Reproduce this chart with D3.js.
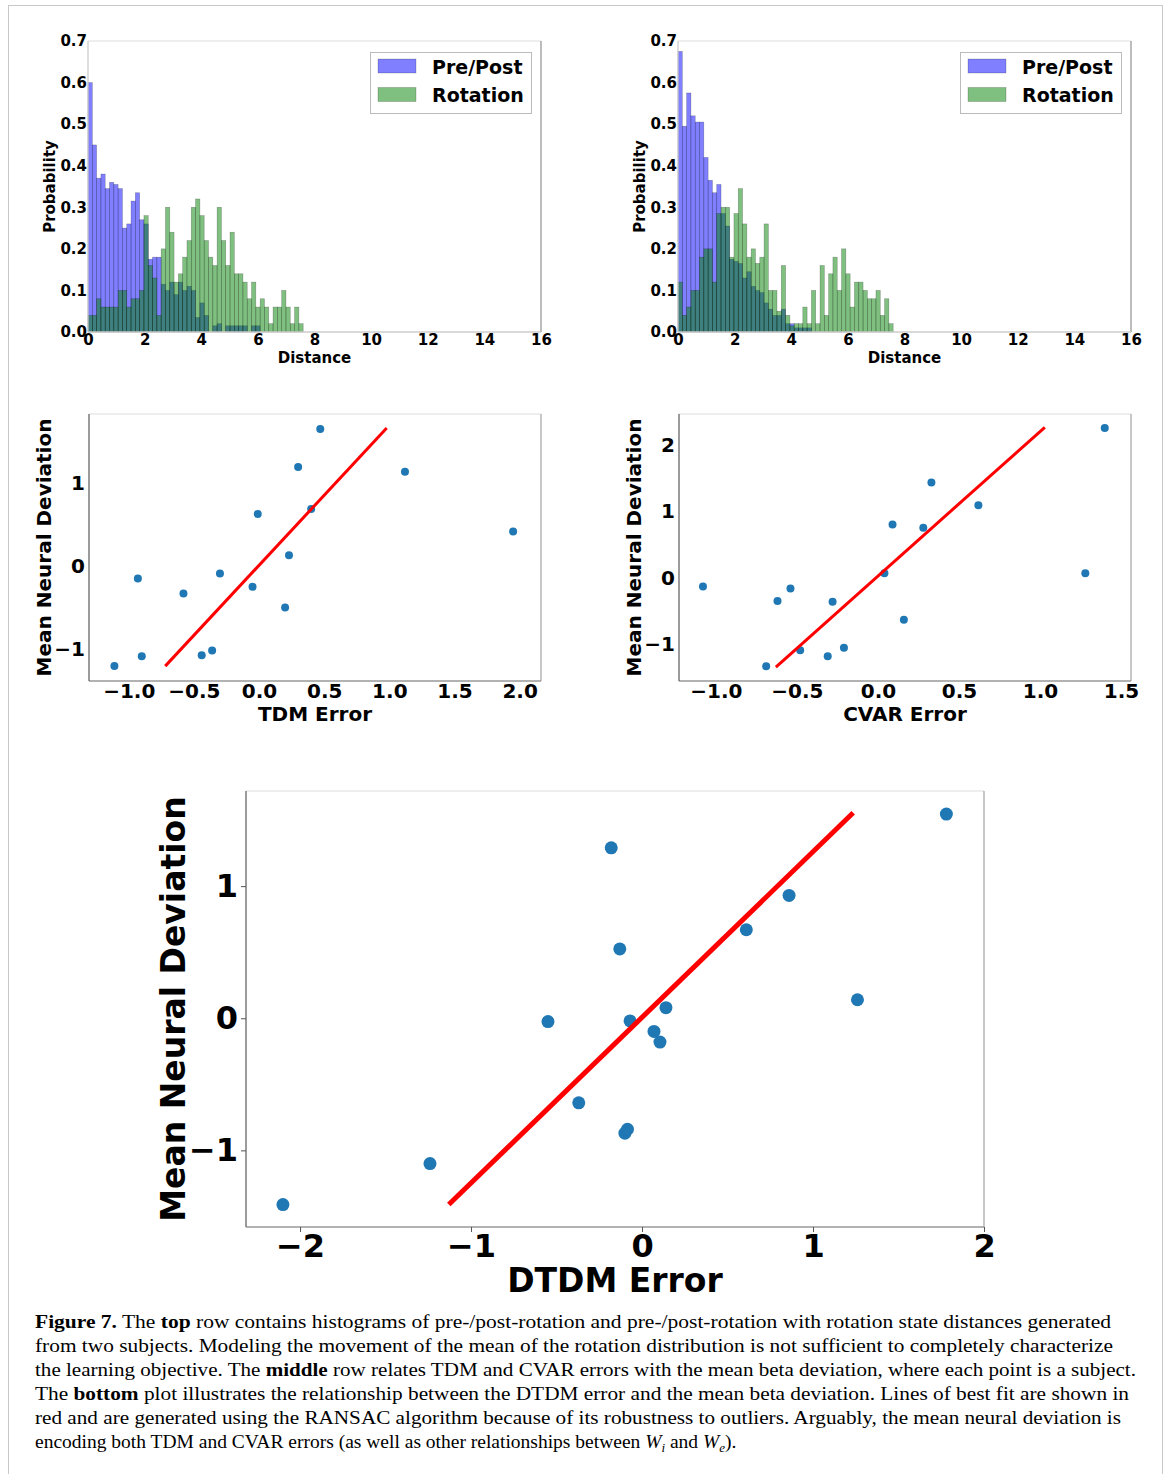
<!DOCTYPE html>
<html>
<head>
<meta charset="utf-8">
<script src="https://cdn.jsdelivr.net/npm/d3@7"></script>
<style>
body { margin: 0; background: #fff; }
svg text { font-family: "DejaVu Sans", sans-serif; font-weight: bold; fill: #000; }
svg text.caption { font-family: "Liberation Serif", serif; font-weight: normal; }
</style>
</head>
<body>
<svg id="fig" width="1170" height="1474"></svg>
<script>
// ---- data ----
var binWidth = 0.152;   // 50 bins over 0..7.6

var hist1Pre = [0.60,0.45,0.37,0.38,0.345,0.36,0.355,0.345,0.25,0.26,0.315,0.335,0.27,0.26,0.175,0.18,0.18,0.115,0.10,0.12,
                0.09,0.12,0.10,0.11,0.10,0.035,0.07,0.04,0,0.015,0.02,0,0.015,0.015,0.015,0.015,0.015,0,0.015,0.015,
                0,0,0,0,0,0,0,0,0,0];
var hist1Rot = [0.04,0.04,0.08,0.06,0.06,0.06,0.06,0.10,0.10,0.06,0.08,0.08,0.10,0.28,0.16,0.13,0.04,0.20,0.30,0.24,
                0.12,0.14,0.18,0.22,0.30,0.32,0.28,0.22,0.18,0.16,0.30,0.22,0.16,0.24,0.14,0.14,0.12,0.08,0.12,0.06,
                0.08,0.06,0.02,0.06,0.06,0.10,0.06,0.02,0.06,0.02];

var hist2Pre = [0.675,0.495,0.575,0.52,0.505,0.505,0.42,0.365,0.335,0.355,0.285,0.255,0.175,0.17,0.165,0.13,0.145,0.11,0.10,0.095,
                0.07,0.055,0.04,0.04,0.055,0.02,0.02,0.01,0.01,0.01,0.01,0,0,0,0,0,0,0,0,0,
                0,0,0,0,0,0,0,0,0,0];
var hist2Rot = [0.12,0.04,0.06,0.10,0.10,0.18,0.20,0.20,0.12,0.285,0.30,0.30,0.18,0.285,0.345,0.26,0.18,0.20,0.165,0.18,
                0.26,0.10,0.10,0.05,0.16,0.04,0.015,0.02,0.02,0.06,0.02,0.10,0.02,0.16,0.04,0.14,0.18,0.10,0.20,0.14,
                0.06,0.12,0.12,0.10,0.08,0.08,0.10,0.04,0.08,0.02];

var histXTicks = [0,2,4,6,8,10,12,14,16];
var histYTicks = [0,0.1,0.2,0.3,0.4,0.5,0.6,0.7];
var legendLabels = ["Pre/Post", "Rotation"];

var tdmX = [-1.11,-0.93,-0.90,-0.58,-0.44,-0.36,-0.30,-0.05,-0.01,0.20,0.23,0.30,0.40,0.47,1.12,1.95];
var tdmY = [-1.21,-0.15,-1.09,-0.33,-1.08,-1.02,-0.09,-0.25,0.63,-0.50,0.13,1.20,0.69,1.66,1.14,0.42];
var tdmFitX = [-0.72, 0.98];
var tdmFitY = [-1.21, 1.67];

var cvarX = [-1.08,-0.69,-0.62,-0.54,-0.48,-0.31,-0.28,-0.21,0.04,0.09,0.16,0.28,0.33,0.62,1.28,1.40];
var cvarY = [-0.13,-1.33,-0.35,-0.16,-1.09,-1.18,-0.36,-1.05,0.07,0.80,-0.63,0.75,1.43,1.09,0.07,2.25];
var cvarFitX = [-0.63, 1.03];
var cvarFitY = [-1.34, 2.26];

var dtdmX = [-2.10,-1.24,-0.55,-0.37,-0.18,-0.13,-0.10,-0.085,-0.07,0.07,0.105,0.14,0.61,0.86,1.26,1.78];
var dtdmY = [-1.41,-1.10,-0.025,-0.64,1.29,0.525,-0.87,-0.84,-0.02,-0.10,-0.18,0.08,0.67,0.93,0.14,1.545];
var dtdmFitX = [-1.13, 1.235];
var dtdmFitY = [-1.41, 1.555];

var captionLines = [
  [["Figure 7.", "b"], [" The ", ""], ["top", "b"], [" row contains histograms of pre-/post-rotation and pre-/post-rotation with rotation state distances generated", ""]],
  [["from two subjects. Modeling the movement of the mean of the rotation distribution is not sufficient to completely characterize", ""]],
  [["the learning objective. The ", ""], ["middle", "b"], [" row relates TDM and CVAR errors with the mean beta deviation, where each point is a subject.", ""]],
  [["The ", ""], ["bottom", "b"], [" plot illustrates the relationship between the DTDM error and the mean beta deviation. Lines of best fit are shown in", ""]],
  [["red and are generated using the RANSAC algorithm because of its robustness to outliers. Arguably, the mean neural deviation is", ""]],
  [["encoding both TDM and CVAR errors (as well as other relationships between ", ""], ["W", "i"], ["i", "sub"], [" and ", "up"], ["W", "i"], ["e", "sub"], [").", "up"]]
];
var captionWidths = [1076, 1078, 1101, 1094, 1086, null];

var svg = d3.select('#fig');

svg.append('rect')
    .attr('x', 8.5).attr('y', 5.5).attr('width', 1154).attr('height', 1500)
    .attr('fill', 'none').attr('stroke', '#c8c8c8');

function spines(g, box, c) {
    g.append('line').attr('x1', box.left).attr('x2', box.right).attr('y1', box.top).attr('y2', box.top).attr('stroke', c.top);
    g.append('line').attr('x1', box.right).attr('x2', box.right).attr('y1', box.top).attr('y2', box.bottom).attr('stroke', c.right).attr('stroke-width', 1.3);
    g.append('line').attr('x1', box.left).attr('x2', box.right).attr('y1', box.bottom).attr('y2', box.bottom).attr('stroke', c.bottom).attr('stroke-width', 1.3);
    g.append('line').attr('x1', box.left).attr('x2', box.left).attr('y1', box.top).attr('y2', box.bottom).attr('stroke', c.left).attr('stroke-width', 1.3);
}

function styleAxis(a, size) {
    a.select('.domain').remove();
    a.attr('font-family', null).attr('font-size', null);
    a.selectAll('text').attr('font-size', size);
    a.selectAll('line').attr('stroke', '#555');
}

function drawHist(box, pre, rot) {
    var g = svg.append('g');
    var x = d3.scaleLinear().domain([0, 16]).range([box.left, box.right]);
    var y = d3.scaleLinear().domain([0, 0.7]).range([box.bottom, box.top]);

    [[pre, 'blue'], [rot, 'green']].forEach(function(s) {
        var vals = s[0].map(function(v, k) { return {k: k, v: v}; }).filter(function(d) { return d.v > 0; });
        g.append('g').selectAll('rect').data(vals).enter().append('rect')
            .attr('x', function(d) { return x(d.k * binWidth); })
            .attr('width', x(binWidth) - x(0))
            .attr('y', function(d) { return y(d.v); })
            .attr('height', function(d) { return y(0) - y(d.v); })
            .attr('fill', s[1]).attr('fill-opacity', 0.5)
            .attr('stroke', '#000').attr('stroke-opacity', 0.3).attr('stroke-width', 0.6);
    });

    spines(g, box, {top: '#ddd', right: '#999', bottom: '#ccc', left: '#ccc'});

    var xa = g.append('g').attr('transform', 'translate(0,' + box.bottom + ')')
        .call(d3.axisBottom(x).tickValues(histXTicks).tickSize(0).tickPadding(2).tickFormat(d3.format('d')));
    styleAxis(xa, 15);
    var ya = g.append('g').attr('transform', 'translate(' + box.left + ',0)')
        .call(d3.axisLeft(y).tickValues(histYTicks).tickSize(0).tickPadding(1).tickFormat(d3.format('.1f')));
    styleAxis(ya, 15);

    g.append('text').attr('x', (box.left + box.right) / 2).attr('y', box.bottom + 31)
        .attr('text-anchor', 'middle').attr('font-size', 15).text('Distance');
    g.append('text').attr('transform', 'translate(' + (box.left - 33) + ',' + ((box.top + box.bottom) / 2) + ') rotate(-90)')
        .attr('text-anchor', 'middle').attr('font-size', 15).text('Probability');

    // legend
    var lg = g.append('g').attr('transform', 'translate(' + (box.right - 171) + ',' + (box.top + 11) + ')');
    lg.append('rect').attr('x', 0.5).attr('y', 0.5).attr('width', 161).attr('height', 61)
        .attr('fill', '#fff').attr('stroke', '#bbb');
    ['blue', 'green'].forEach(function(c, i) {
        lg.append('rect').attr('x', 8).attr('y', 7 + i * 28.5).attr('width', 38).attr('height', 14)
            .attr('fill', c).attr('fill-opacity', 0.5).attr('stroke', '#000').attr('stroke-opacity', 0.3).attr('stroke-width', 0.6);
        lg.append('text').attr('x', 62).attr('y', 21.5 + i * 28.5).attr('font-size', 19).text(legendLabels[i]);
    });
}

function drawScatter(box, o) {
    var g = svg.append('g');
    var x = d3.scaleLinear().domain(o.xDomain).range([box.left, box.right]);
    var y = d3.scaleLinear().domain(o.yDomain).range([box.bottom, box.top]);

    spines(g, box, {top: '#ddd', right: '#aaa', bottom: '#999', left: '#666'});

    var xa = g.append('g').attr('transform', 'translate(0,' + box.bottom + ')')
        .call(d3.axisBottom(x).tickValues(o.xTicks).tickSize(o.tick).tickPadding(o.pad).tickFormat(d3.format(o.xFmt)));
    styleAxis(xa, o.tickFont);
    var ya = g.append('g').attr('transform', 'translate(' + box.left + ',0)')
        .call(d3.axisLeft(y).tickValues(o.yTicks).tickSize(o.tick).tickPadding(o.pad + 1).tickFormat(d3.format('d')));
    styleAxis(ya, o.tickFont);

    g.append('g').selectAll('circle').data(o.xs).enter().append('circle')
        .attr('cx', function(d) { return x(d); })
        .attr('cy', function(d, i) { return y(o.ys[i]); })
        .attr('r', o.r).attr('fill', '#1f77b4');

    var line = d3.line().x(function(d) { return x(d[0]); }).y(function(d) { return y(d[1]); });
    g.append('path').datum(d3.zip(o.fitX, o.fitY))
        .attr('d', line).attr('fill', 'none').attr('stroke', 'red').attr('stroke-width', o.lw);

    g.append('text').attr('x', (box.left + box.right) / 2).attr('y', box.bottom + o.xLabelDy)
        .attr('text-anchor', 'middle').attr('font-size', o.labelFont).text(o.xLabel);
    g.append('text').attr('transform', 'translate(' + (box.left - o.yLabelDx) + ',' + ((box.top + box.bottom) / 2) + ') rotate(-90)')
        .attr('text-anchor', 'middle').attr('font-size', o.labelFont).text('Mean Neural Deviation');
}

drawHist({left: 88, right: 541, top: 41, bottom: 332}, hist1Pre, hist1Rot);
drawHist({left: 678, right: 1131, top: 41, bottom: 332}, hist2Pre, hist2Rot);

drawScatter({left: 89, right: 541, top: 414, bottom: 681}, {
    xs: tdmX, ys: tdmY, fitX: tdmFitX, fitY: tdmFitY,
    xDomain: [-1.305, 2.164], yDomain: [-1.39, 1.84],
    xTicks: [-1, -0.5, 0, 0.5, 1, 1.5, 2], yTicks: [-1, 0, 1], xFmt: '.1f',
    tick: 0, pad: 3, tickFont: 20, labelFont: 20, r: 4, lw: 3,
    xLabel: 'TDM Error', xLabelDy: 40, yLabelDx: 38
});

drawScatter({left: 679, right: 1131, top: 414, bottom: 681}, {
    xs: cvarX, ys: cvarY, fitX: cvarFitX, fitY: cvarFitY,
    xDomain: [-1.228, 1.562], yDomain: [-1.55, 2.46],
    xTicks: [-1, -0.5, 0, 0.5, 1, 1.5], yTicks: [-1, 0, 1, 2], xFmt: '.1f',
    tick: 0, pad: 3, tickFont: 20, labelFont: 20, r: 4, lw: 3,
    xLabel: 'CVAR Error', xLabelDy: 40, yLabelDx: 38
});

drawScatter({left: 246, right: 984, top: 791, bottom: 1227}, {
    xs: dtdmX, ys: dtdmY, fitX: dtdmFitX, fitY: dtdmFitY,
    xDomain: [-2.316, 2.0], yDomain: [-1.58, 1.72],
    xTicks: [-2, -1, 0, 1, 2], yTicks: [-1, 0, 1], xFmt: 'd',
    tick: 5, pad: 2, tickFont: 32, labelFont: 33, r: 6.5, lw: 5,
    xLabel: 'DTDM Error', xLabelDy: 65, yLabelDx: 61
});

// caption
var cap = svg.append('g');
captionLines.forEach(function(parts, i) {
    var t = cap.append('text').attr('class', 'caption')
        .attr('x', 35).attr('y', 1328 + i * 24).attr('font-size', 19.5);
    if (captionWidths[i]) t.attr('textLength', captionWidths[i]).attr('lengthAdjust', 'spacingAndGlyphs');
    parts.forEach(function(p) {
        var ts = t.append('tspan').text(p[0]);
        if (p[1] === 'b') ts.attr('font-weight', 'bold');
        if (p[1] === 'i') ts.attr('font-style', 'italic');
        if (p[1] === 'sub') ts.attr('font-style', 'italic').attr('font-size', 13).attr('dy', 4);
        if (p[1] === 'up') ts.attr('dy', -4);
    });
});
</script>
</body>
</html>
